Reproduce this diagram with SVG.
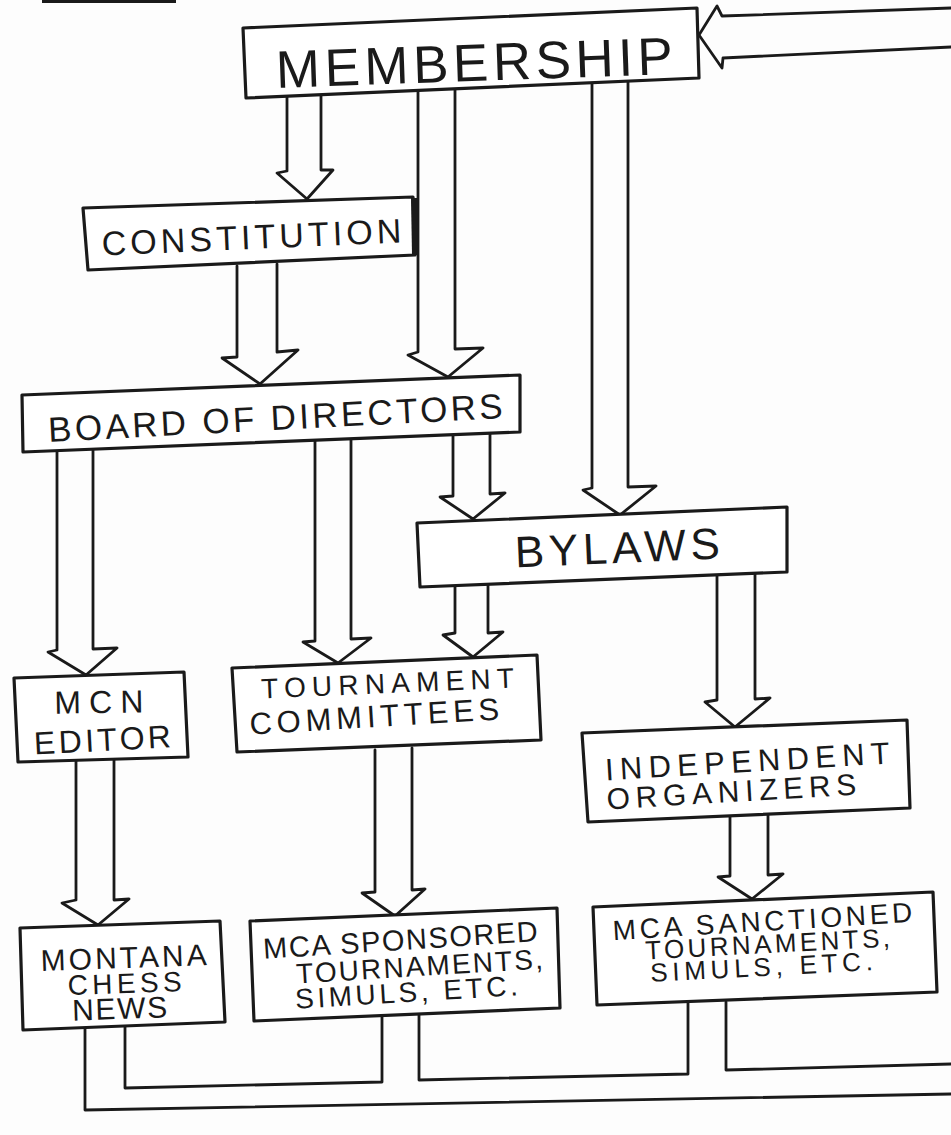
<svg xmlns="http://www.w3.org/2000/svg" width="951" height="1135" viewBox="0 0 951 1135">
<style>
.box{fill:#fff;stroke:#1a1a1a;stroke-width:3.2;stroke-linejoin:round}
.arr{fill:none;stroke:#1a1a1a;stroke-width:2.8;stroke-linejoin:round;stroke-linecap:round}
.t{font-family:"Liberation Sans",Arial,sans-serif;fill:#1a1a1a;text-anchor:middle}
</style>
<rect width="951" height="1135" fill="#fdfdfd"/>
<line x1="42" y1="1.5" x2="176" y2="1.5" stroke="#1a1a1a" stroke-width="3"/>
<g id="connectors">
<path class="arr" d="M951 8 L722 16 L717 6 L699 35 L722 68 L723 58 L951 47"/>
<path class="arr" d="M287 96 V171 L277 173 L307 199 L333 170 L321 170 V94"/>
<path class="arr" d="M418 88 V352 L408 355 L448 377 L483 348 L455 349 V86"/>
<path class="arr" d="M592 83 V488 L583 490 L620 515 L656 486 L628 487 V81"/>
<path class="arr" d="M237 266 V357 L222 358 L260 384 L298 350 L277 352 V264"/>
<path class="arr" d="M57 450 V650 L48 652 L86 675 L117 648 L93 649 V448"/>
<path class="arr" d="M315 440 V641 L303 642 L338 663 L371 638 L351 639 V438"/>
<path class="arr" d="M453 435 V496 L440 497 L473 519 L505 493 L490 494 V433"/>
<path class="arr" d="M455 585 V633 L443 635 L473 657 L503 632 L488 633 V584"/>
<path class="arr" d="M717 572 V700 L705 702 L735 727 L770 698 L755 699 V570"/>
<path class="arr" d="M76 760 V900 L62 903 L98 925 L129 899 L114 900 V758"/>
<path class="arr" d="M375 750 V892 L362 893 L395 916 L425 889 L412 890 V748"/>
<path class="arr" d="M730 815 V876 L718 877 L752 899 L783 874 L768 875 V813"/>
<path class="arr" d="M85 1028 L85 1110 L951 1094"/>
<path class="arr" d="M125 1026 L125 1088 L382 1082 L382 1016"/>
<path class="arr" d="M419 1015 L419 1080 L688 1074 L688 1003"/>
<path class="arr" d="M726 1002 L726 1070 L951 1064"/>
</g>
<g id="membership">
<polygon class="box" points="243,28 697,8 699,78 246,98"/>
<text class="t" x="475" y="81" font-size="53" textLength="397" lengthAdjust="spacing" transform="rotate(-2 475 81)">MEMBERSHIP</text>
</g>
<g id="constitution">
<polygon class="box" points="83,208 413,197 415,255 88,270"/>
<line x1="414" y1="198" x2="415" y2="255" stroke="#1a1a1a" stroke-width="6"/>
<text class="t" x="252" y="249" font-size="34" textLength="300" lengthAdjust="spacing" transform="rotate(-2.5 252 249)">CONSTITUTION</text>
</g>
<g id="board">
<polygon class="box" points="22,395 520,375 520,432 23,452"/>
<text class="t" x="276" y="430" font-size="35" textLength="455" lengthAdjust="spacing" transform="rotate(-3 276 430)">BOARD OF DIRECTORS</text>
</g>
<g id="bylaws">
<polygon class="box" points="417,523 787,507 787,572 420,587"/>
<text class="t" x="618" y="563" font-size="44" textLength="205" lengthAdjust="spacing" transform="rotate(-2.5 618 563)">BYLAWS</text>
</g>
<g id="mcn-editor">
<polygon class="box" points="14,678 184,672 188,757 18,762"/>
<text class="t" x="99" y="713" font-size="32" textLength="89" lengthAdjust="spacing" transform="rotate(-1 99 713)">MCN</text>
<text class="t" x="103" y="751" font-size="32" textLength="137" lengthAdjust="spacing" transform="rotate(-3 103 751)">EDITOR</text>
</g>
<g id="tournament-committees">
<polygon class="box" points="232,668 537,655 541,740 237,752"/>
<text class="t" x="388" y="693" font-size="28" textLength="253" lengthAdjust="spacing" transform="rotate(-2.5 388 693)">TOURNAMENT</text>
<text class="t" x="375" y="727" font-size="31" textLength="250" lengthAdjust="spacing" transform="rotate(-3.5 375 727)">COMMITTEES</text>
</g>
<g id="independent-organizers">
<polygon class="box" points="582,733 907,720 910,808 588,822"/>
<text class="t" x="748" y="772" font-size="31" textLength="285" lengthAdjust="spacing" transform="rotate(-3.4 748 772)">INDEPENDENT</text>
<text class="t" x="732" y="802" font-size="30" textLength="250" lengthAdjust="spacing" transform="rotate(-3.4 732 802)">ORGANIZERS</text>
</g>
<g id="montana-chess-news">
<polygon class="box" points="20,928 220,921 225,1022 23,1030"/>
<text class="t" x="124" y="968" font-size="30" textLength="166" lengthAdjust="spacing" transform="rotate(-2 124 968)">MONTANA</text>
<text class="t" x="125" y="993" font-size="28" textLength="114" lengthAdjust="spacing" transform="rotate(-2 125 993)">CHESS</text>
<text class="t" x="120" y="1019" font-size="30" textLength="95" lengthAdjust="spacing" transform="rotate(-2 120 1019)">NEWS</text>
</g>
<g id="mca-sponsored">
<polygon class="box" points="250,921 557,908 560,1008 254,1021"/>
<text class="t" x="401" y="950" font-size="29" textLength="275" lengthAdjust="spacing" transform="rotate(-3.7 401 950)">MCA SPONSORED</text>
<text class="t" x="420" y="976" font-size="28" textLength="247" lengthAdjust="spacing" transform="rotate(-3.5 420 976)">TOURNAMENTS,</text>
<text class="t" x="407" y="1002" font-size="28" textLength="223" lengthAdjust="spacing" transform="rotate(-3.5 407 1002)">SIMULS, ETC.</text>
</g>
<g id="mca-sanctioned">
<polygon class="box" points="593,907 933,892 937,992 597,1005"/>
<text class="t" x="763" y="931" font-size="28" textLength="300" lengthAdjust="spacing" transform="rotate(-3.5 763 931)">MCA SANCTIONED</text>
<text class="t" x="768" y="953" font-size="26" textLength="245" lengthAdjust="spacing" transform="rotate(-3 768 953)">TOURNAMENTS,</text>
<text class="t" x="762" y="976" font-size="26" textLength="223" lengthAdjust="spacing" transform="rotate(-3 762 976)">SIMULS, ETC.</text>
</g>
</svg>
